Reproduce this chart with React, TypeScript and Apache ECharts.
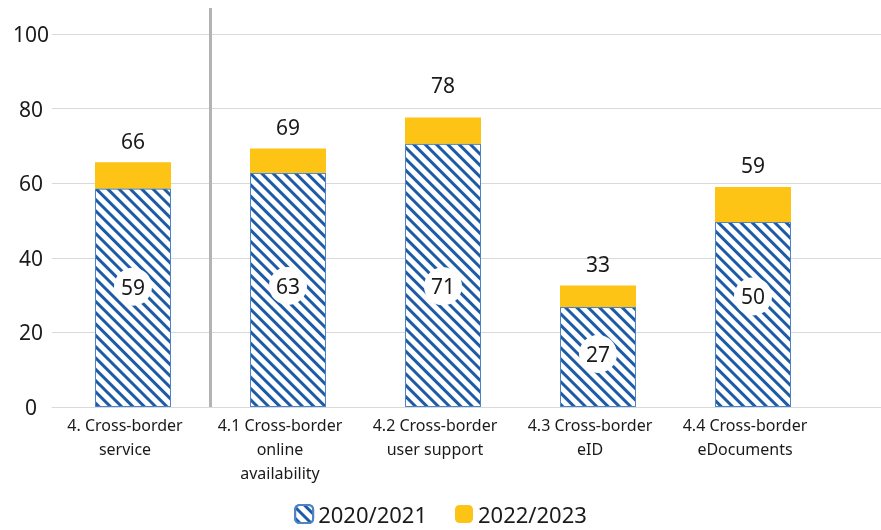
import React, { useEffect, useRef } from "react";
import * as echarts from "echarts";

const categories = [
  "4. Cross-border\nservice",
  "4.1 Cross-border\nonline\navailability",
  "4.2 Cross-border\nuser support",
  "4.3 Cross-border\neID",
  "4.4 Cross-border\neDocuments",
];
const values2020 = [58.6, 62.8, 70.6, 26.8, 49.6];
const totals2022 = [65.6, 69.3, 77.6, 32.6, 59.0];
const yTicks = { min: 0, max: 100, interval: 20 };
const seriesNames = ["2020/2021", "2022/2023"];

// label nudges (px) to mimic the original's label placement
const innerLabelShift = [-11, -4, 11, -3, -18];
const topLabelShift = [0, 0, -11, 0, 0];

const FONT = "Noto Sans";
const BLUE = "#1d5ba6";
const YELLOW = "#fdc315";

export default function App() {
  const ref = useRef<HTMLDivElement>(null);
  useEffect(() => {
    const chart = echarts.init(ref.current!, null, { renderer: "svg" });
    const increments = totals2022.map((t, i) => t - values2020[i]);
    const decal = {
      symbol: "rect",
      color: BLUE,
      backgroundColor: "#ffffff",
      dashArrayX: [1, 0],
      dashArrayY: [2.3, 4.2],
      rotation: Math.PI / 4,
    };
    chart.setOption({
      animation: false,
      textStyle: { fontFamily: FONT },
      legend: {
        bottom: 0,
        left: "center",
        itemWidth: 18,
        itemHeight: 18,
        itemGap: 28,
        textStyle: { fontSize: 22, color: "#1a1a1a", fontFamily: FONT },
        data: seriesNames,
      },
      grid: [
        { left: 52, right: 0, top: 34, bottom: 123 },
        { left: 55.5, right: 50.5, top: 34, bottom: 123 },
      ],
      xAxis: [
        {
          type: "value",
          gridIndex: 0,
          min: 0,
          max: 1,
          axisLabel: { show: false },
          axisTick: { show: false },
          splitLine: { show: false },
          axisLine: { show: true, lineStyle: { color: "#d9d9d9", width: 1 } },
        },
        {
          type: "category",
          gridIndex: 1,
          data: categories,
          axisLine: { show: false },
          axisTick: { show: false },
          axisLabel: {
            margin: 6,
            fontSize: 16,
            lineHeight: 24,
            color: "#1a1a1a",
            fontFamily: FONT,
            interval: 0,
            padding: [0, 16, 0, 0],
          },
        },
      ],
      yAxis: [
        {
          type: "value",
          gridIndex: 0,
          ...yTicks,
          axisLine: { show: false },
          axisTick: { show: false },
          axisLabel: {
            fontSize: 21,
            color: "#1a1a1a",
            align: "center",
            margin: 21,
            fontFamily: FONT,
          },
          splitLine: { lineStyle: { color: "#d9d9d9", width: 1 } },
        },
        {
          type: "value",
          gridIndex: 1,
          ...yTicks,
          show: false,
          splitLine: { show: false },
        },
      ],
      series: [
        {
          name: seriesNames[0],
          type: "bar",
          xAxisIndex: 1,
          yAxisIndex: 1,
          stack: "s",
          barWidth: 76,
          data: values2020.map((v, i) => ({
            value: v,
            label: { offset: [0, innerLabelShift[i]] },
          })),
          itemStyle: {
            color: "#ffffff",
            decal,
            borderColor: "#4f84c4",
            borderWidth: 1,
          },
          label: {
            show: true,
            position: "inside",
            formatter: (p: any) => String(Math.round(p.value)),
            fontSize: 21,
            color: "#1a1a1a",
            backgroundColor: "#ffffff",
            borderRadius: 20,
            padding: [7, 7],
            lineHeight: 24,
            fontFamily: FONT,
          },
        },
        {
          name: seriesNames[1],
          type: "bar",
          xAxisIndex: 1,
          yAxisIndex: 1,
          stack: "s",
          barWidth: 76,
          data: increments.map((v, i) => ({
            value: v,
            label: { offset: [0, topLabelShift[i]] },
          })),
          itemStyle: { color: YELLOW },
          label: {
            show: true,
            position: "top",
            distance: 11,
            formatter: (p: any) => String(Math.round(totals2022[p.dataIndex])),
            fontSize: 21,
            color: "#1a1a1a",
            fontFamily: FONT,
          },
        },
      ],
    });
    const x0 = chart.convertToPixel({ xAxisIndex: 1 }, categories[0]) as number;
    const x1 = chart.convertToPixel({ xAxisIndex: 1 }, categories[1]) as number;
    const yBottom = chart.convertToPixel({ yAxisIndex: 1 }, 0) as number;
    const sepX = (x0 + x1) / 2;
    chart.setOption({
      graphic: [
        {
          type: "line",
          shape: { x1: sepX, y1: 8, x2: sepX, y2: yBottom },
          style: { stroke: "#b3b3b3", lineWidth: 3 },
          z: 10,
        },
      ],
    });
    return () => chart.dispose();
  }, []);
  return (
    <div
      ref={ref}
      style={{ position: "fixed", left: 0, top: 0, width: 881, height: 530 }}
    />
  );
}
